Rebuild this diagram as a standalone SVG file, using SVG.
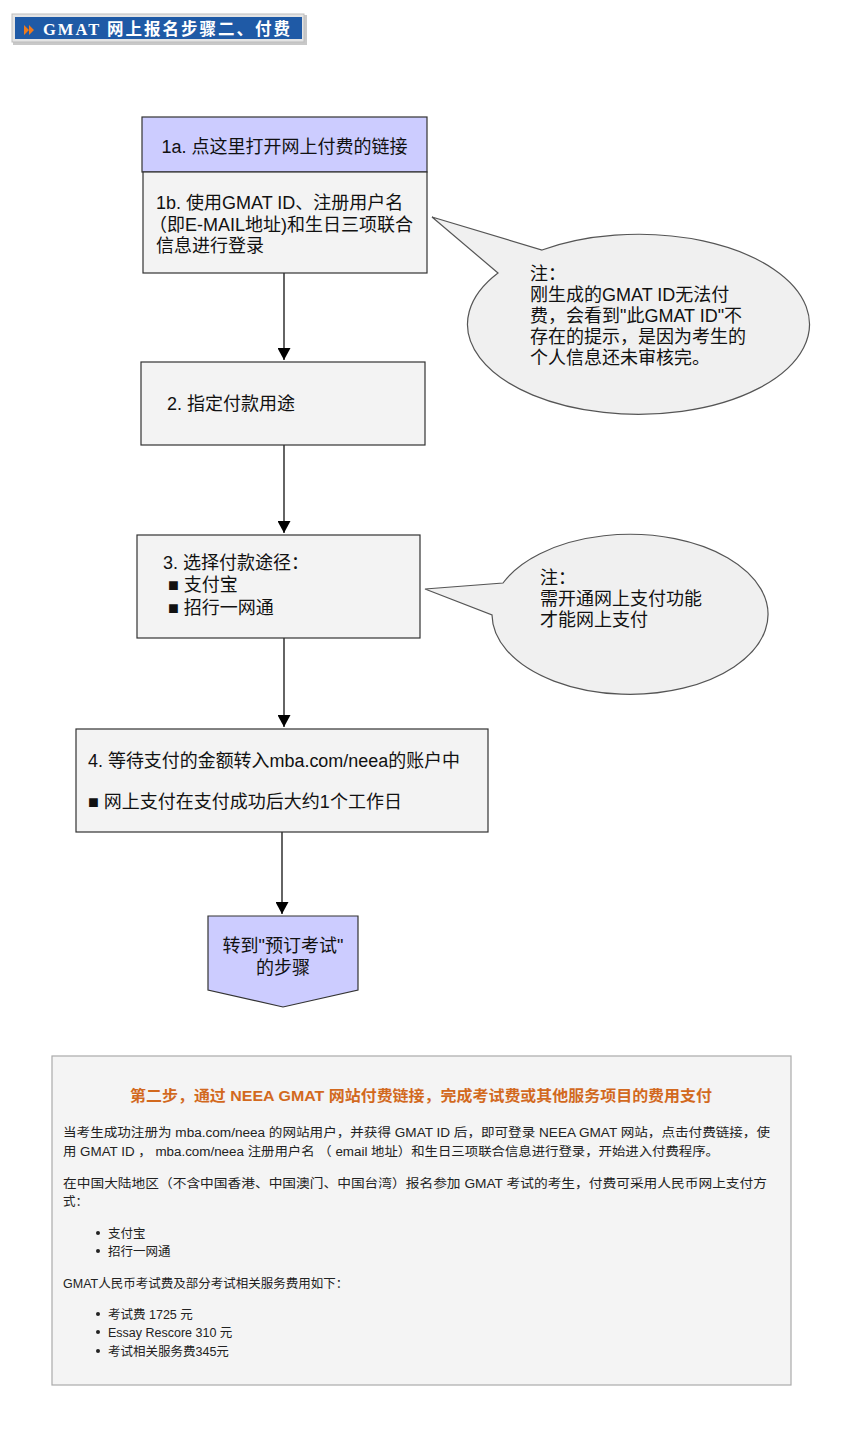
<svg xmlns="http://www.w3.org/2000/svg" width="865" height="1454" viewBox="0 0 865 1454">
<defs>
<style>
.t{font-family:"Liberation Sans","Noto Sans CJK SC",sans-serif;fill:#111;}
.f{font-size:18px;}
.box{fill:#f3f3f3;stroke:#333;stroke-width:1.2;}
.lav{fill:#ccccff;stroke:#333;stroke-width:1.2;}
.call{fill:#f0f0f0;stroke:#555;stroke-width:1.2;}
.b{font-size:12.5px;fill:#222;}
.conn{stroke:#111;stroke-width:1.3;fill:none;}
</style>
<marker id="ah" viewBox="0 0 12 13" refX="12" refY="6.5" markerWidth="12" markerHeight="13" orient="auto" markerUnits="userSpaceOnUse">
<path d="M0,0 L12,6.5 L0,13 Z" fill="#000"/>
</marker>
</defs>
<rect width="865" height="1454" fill="#fff"/>

<g id="banner">
<rect x="13" y="15" width="294" height="30" fill="#c8c8c8"/>
<rect x="12" y="14" width="292" height="28" fill="#e4e4e4" stroke="#bdbdbd"/>
<rect x="15" y="17" width="287" height="22" fill="#1f5aa6"/>
<path d="M24,25 L29,30 L24,35 Z M29,25 L34,30 L29,35 Z" fill="#f07a1c"/>
<text x="43" y="35" font-family="'Liberation Serif','Noto Sans CJK SC',serif" font-weight="bold" font-size="16.5" fill="#fff" textLength="247" lengthAdjust="spacing">GMAT 网上报名步骤二、付费</text>
</g>

<g id="connectors">
<line class="conn" x1="284" y1="273" x2="284" y2="360" marker-end="url(#ah)"/>
<line class="conn" x1="284" y1="445" x2="284" y2="533" marker-end="url(#ah)"/>
<line class="conn" x1="284" y1="638" x2="284" y2="727" marker-end="url(#ah)"/>
<line class="conn" x1="282" y1="832" x2="282" y2="914" marker-end="url(#ah)"/>
</g>

<g id="node1a">
<rect class="lav" x="142" y="117" width="285" height="55"/>
<text class="t f" x="284.5" y="153" text-anchor="middle">1a. 点这里打开网上付费的链接</text>
</g>

<g id="node1b">
<rect class="box" x="143" y="172" width="284" height="101"/>
<text class="t f" x="156" y="209">1b. 使用GMAT ID、注册用户名</text>
<text class="t f" x="149" y="231">（即E-MAIL地址)和生日三项联合</text>
<text class="t f" x="156" y="252">信息进行登录</text>
</g>

<g id="note1">
<path class="call" d="M542,250 A171,90 0 1 1 498,273 L432,217 Z"/>
<text class="t f" x="530" y="280">注：</text>
<text class="t f" x="530" y="301">刚生成的GMAT ID无法付</text>
<text class="t f" x="530" y="322">费，会看到"此GMAT ID"不</text>
<text class="t f" x="530" y="343">存在的提示，是因为考生的</text>
<text class="t f" x="530" y="364">个人信息还未审核完。</text>
</g>

<g id="node2">
<rect class="box" x="141" y="362" width="284" height="83"/>
<text class="t f" x="167" y="410">2. 指定付款用途</text>
</g>

<g id="node3">
<rect class="box" x="137" y="535" width="283" height="103"/>
<text class="t f" x="163" y="569">3. 选择付款途径：</text>
<text class="t f" x="168" y="591">■ 支付宝</text>
<text class="t f" x="168" y="614">■ 招行一网通</text>
</g>

<g id="note2">
<path class="call" d="M503,583 A138,80 0 1 1 492,615 L425,589 Z"/>
<text class="t f" x="540" y="584">注：</text>
<text class="t f" x="540" y="605">需开通网上支付功能</text>
<text class="t f" x="540" y="626">才能网上支付</text>
</g>

<g id="node4">
<rect class="box" x="76" y="729" width="412" height="103"/>
<text class="t f" x="88" y="767" textLength="372" lengthAdjust="spacingAndGlyphs">4. 等待支付的金额转入mba.com/neea的账户中</text>
<text class="t f" x="88" y="808">■ 网上支付在支付成功后大约1个工作日</text>
</g>

<g id="node5">
<path class="lav" d="M208,916 L358,916 L358,990 L283,1007 L208,990 Z"/>
<text class="t f" x="283" y="952" text-anchor="middle">转到"预订考试"</text>
<text class="t f" x="283" y="974" text-anchor="middle">的步骤</text>
</g>

<g id="info">
<rect x="52" y="1056" width="739" height="329" fill="#f4f4f4" stroke="#aaa" stroke-width="1.2"/>
<text class="t" x="421" y="1101" text-anchor="middle" font-size="15" font-weight="bold" style="fill:#d2691e" textLength="582" lengthAdjust="spacingAndGlyphs">第二步，通过 NEEA GMAT 网站付费链接，完成考试费或其他服务项目的费用支付</text>
<text class="t b" x="63" y="1137" textLength="707" lengthAdjust="spacingAndGlyphs">当考生成功注册为 mba.com/neea 的网站用户，并获得 GMAT ID 后，即可登录 NEEA GMAT 网站，点击付费链接，使</text>
<text class="t b" x="63" y="1156" textLength="656" lengthAdjust="spacingAndGlyphs">用 GMAT ID ， mba.com/neea 注册用户名 （ email 地址）和生日三项联合信息进行登录，开始进入付费程序。</text>
<text class="t b" x="63" y="1188" textLength="704" lengthAdjust="spacingAndGlyphs">在中国大陆地区（不含中国香港、中国澳门、中国台湾）报名参加 GMAT 考试的考生，付费可采用人民币网上支付方</text>
<text class="t b" x="63" y="1206">式：</text>
<circle cx="98" cy="1233" r="2" fill="#222"/>
<text class="t b" x="108" y="1238">支付宝</text>
<circle cx="98" cy="1251" r="2" fill="#222"/>
<text class="t b" x="108" y="1256">招行一网通</text>
<text class="t b" x="63" y="1288">GMAT人民币考试费及部分考试相关服务费用如下：</text>
<circle cx="98" cy="1314" r="2" fill="#222"/>
<text class="t b" x="108" y="1319">考试费 1725 元</text>
<circle cx="98" cy="1332" r="2" fill="#222"/>
<text class="t b" x="108" y="1337">Essay Rescore 310 元</text>
<circle cx="98" cy="1351" r="2" fill="#222"/>
<text class="t b" x="108" y="1356">考试相关服务费345元</text>
</g>
</svg>
